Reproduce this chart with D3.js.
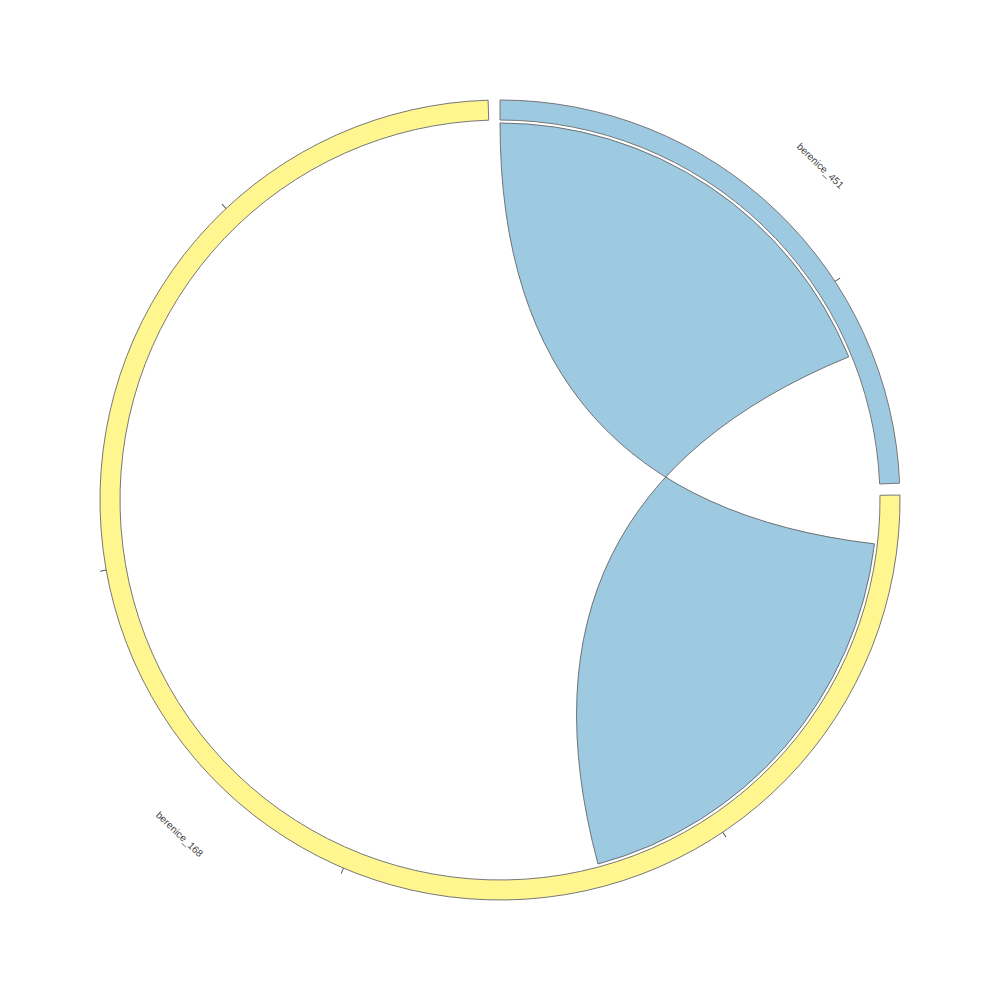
<!DOCTYPE html>
<html>
<head>
<meta charset="utf-8">
<script src="https://cdn.jsdelivr.net/npm/d3@7"></script>
<style>
  body { margin: 0; background: #fff; }
  .group path { stroke: #777; stroke-width: 1; }
  .ribbon path { stroke: #555; stroke-width: 0.8; }
  .tick line { stroke: #555; stroke-width: 1; }
  .label { font-family: "Liberation Sans", Arial, sans-serif; font-size: 10px; fill: #444; }
</style>
</head>
<body>
<div id="chart"></div>
<script>
// Groups, in drawing order (clockwise from 12 o'clock)
const groupNames = ['berenice_451', 'berenice_168'];
const groupValues = [15.4, 47.3];
const groupColors = ['#9ecae1', '#fff68f'];

// One link: [start, end] along the source group and along the target group
const linkSource = [0, [0, 11.9]];
const linkTarget = [1, [1.3, 13.3]];

const tickStep = 10;

const width = 1000;
const height = 1000;
const outerRadius = 400;
const innerRadius = 380;
const ribbonRadius = 377;
const labelRadius = 463;
const padAngle = 0.0297;

const svg = d3.select('#chart').append('svg')
    .attr('width', width)
    .attr('height', height)
  .append('g')
    .attr('transform', `translate(${width / 2}, ${height / 2})`);

// Value -> angle, groups laid out one after another with a pad after each
const total = d3.sum(groupValues);
const k = d3.scaleLinear()
    .domain([0, total])
    .range([0, 2 * Math.PI - padAngle * groupValues.length]);

const groups = [];
let offset = 0;
groupValues.forEach((v, i) => {
  groups.push({
    index: i,
    startAngle: offset,
    endAngle: offset + k(v),
    value: v,
  });
  offset += k(v) + padAngle;
});

// angle of a position inside group i
function angleAt(i, v) {
  return groups[i].startAngle + k(v);
}

const arc = d3.arc()
    .innerRadius(innerRadius)
    .outerRadius(outerRadius);

// Ribbon whose ends are joined start-to-start and end-to-end
function ribbonPath(s0, s1, t0, t1, r) {
  const h = Math.PI / 2;
  const p = d3.path();
  p.moveTo(r * Math.cos(s0 - h), r * Math.sin(s0 - h));
  p.arc(0, 0, r, s0 - h, s1 - h);
  p.quadraticCurveTo(0, 0, r * Math.cos(t1 - h), r * Math.sin(t1 - h));
  p.arc(0, 0, r, t1 - h, t0 - h, true);
  p.quadraticCurveTo(0, 0, r * Math.cos(s0 - h), r * Math.sin(s0 - h));
  p.closePath();
  return p.toString();
}

// Ribbons first so the group arcs sit on top
svg.append('g')
    .attr('class', 'ribbon')
  .append('path')
    .attr('d', ribbonPath(
      angleAt(linkSource[0], linkSource[1][0]),
      angleAt(linkSource[0], linkSource[1][1]),
      angleAt(linkTarget[0], linkTarget[1][0]),
      angleAt(linkTarget[0], linkTarget[1][1]),
      ribbonRadius))
    .attr('fill', groupColors[linkSource[0]]);

const g = svg.append('g')
    .attr('class', 'group')
  .selectAll('g')
    .data(groups)
  .enter().append('g');

g.append('path')
    .attr('d', arc)
    .attr('fill', d => groupColors[d.index]);

// Ticks every tickStep units, skipping zero
g.selectAll('.tick')
    .data(d => d3.range(tickStep, d.value, tickStep).map(v => angleAt(d.index, v)))
  .enter().append('g')
    .attr('class', 'tick')
    .attr('transform', a => `rotate(${(a * 180) / Math.PI - 90}) translate(${outerRadius}, 0)`)
  .append('line')
    .attr('x1', 0)
    .attr('x2', 6);

// Labels, tangent to the circle and kept upright
g.append('text')
    .attr('class', 'label')
    .attr('text-anchor', 'middle')
    .attr('dy', '0.35em')
    .attr('transform', (d) => {
      const deg = ((d.startAngle + d.endAngle) / 2) * 180 / Math.PI;
      return deg > 180
        ? `rotate(${deg - 180}) translate(0, ${labelRadius})`
        : `rotate(${deg}) translate(0, ${-labelRadius})`;
    })
    .text(d => groupNames[d.index]);
</script>
</body>
</html>
